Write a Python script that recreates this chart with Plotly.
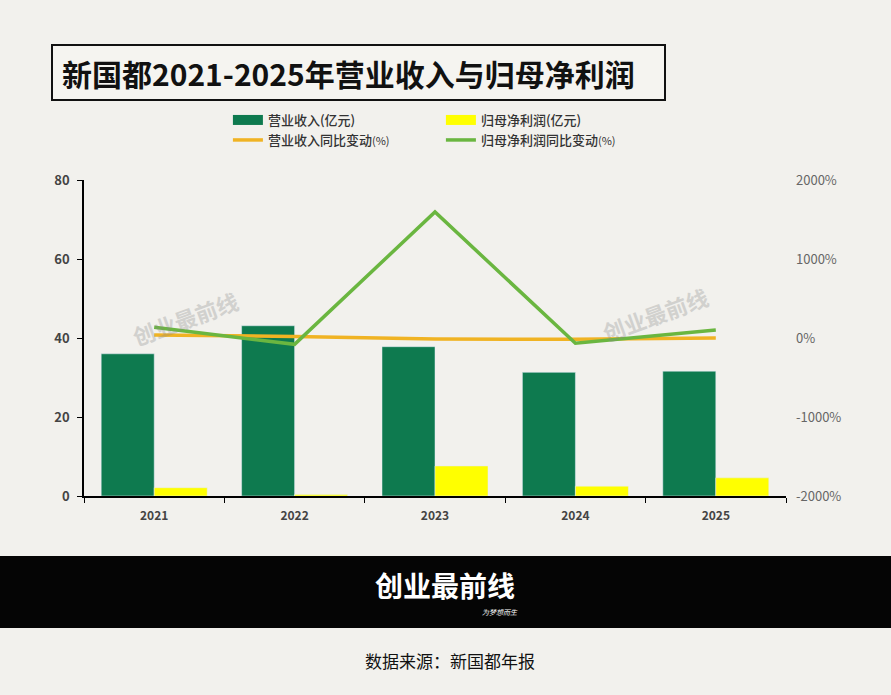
import plotly.graph_objects as go

years = ["2021", "2022", "2023", "2024", "2025"]
revenue = [36.0, 43.1, 37.8, 31.3, 31.6]          # 营业收入(亿元)
net_profit = [2.1, 0.4, 7.6, 2.5, 4.6]            # 归母净利润(亿元)
revenue_yoy = [38, 19, -12, -17, 1]               # 营业收入同比变动(%)
profit_yoy = [135, -80, 1595, -67, 100]           # 归母净利润同比变动(%)

left_ticks = [0, 20, 40, 60, 80]
right_ticks = [-2000, -1000, 0, 1000, 2000]
right_tick_text = ["-2000%", "-1000%", "0%", "1000%", "2000%"]

BG = "#f2f1ed"
GREEN = "#0e7a4f"
YELLOW = "#ffff00"
ORANGE = "#f0b323"
LGREEN = "#6ab640"
FONT = "Noto Sans CJK SC"

fig = go.Figure()

fig.add_trace(go.Bar(x=years, y=revenue, name="营业收入(亿元)", marker_color=GREEN,
                     showlegend=False, yaxis="y"))
fig.add_trace(go.Bar(x=years, y=net_profit, name="归母净利润(亿元)", marker_color=YELLOW,
                     showlegend=False, yaxis="y"))
fig.add_trace(go.Scatter(x=years, y=revenue_yoy, name="营业收入同比变动(%)", mode="lines",
                         line=dict(color=ORANGE, width=3.5), yaxis="y2", showlegend=False))
fig.add_trace(go.Scatter(x=years, y=profit_yoy, name="归母净利润同比变动(%)", mode="lines",
                         line=dict(color=LGREEN, width=3.5), yaxis="y2", showlegend=False))

# legend entries
fig.add_trace(go.Scatter(x=[None], y=[None], name="营业收入(亿元)", mode="lines",
                         line=dict(color=GREEN, width=10), legend="legend"))
fig.add_trace(go.Scatter(x=[None], y=[None], name="归母净利润(亿元)", mode="lines",
                         line=dict(color=YELLOW, width=10), legend="legend"))
fig.add_trace(go.Scatter(x=[None], y=[None], name="营业收入同比变动<span style='font-size:11px;font-weight:normal'>(%)</span>", mode="lines",
                         line=dict(color=ORANGE, width=3.5), legend="legend2"))
fig.add_trace(go.Scatter(x=[None], y=[None], name="归母净利润同比变动<span style='font-size:11px;font-weight:normal'>(%)</span>", mode="lines",
                         line=dict(color=LGREEN, width=3.5), legend="legend2"))

legend_common = dict(orientation="h", xanchor="left", yanchor="middle", x=0.205,
                     bgcolor="rgba(0,0,0,0)", entrywidth=168, entrywidthmode="pixels",
                     font=dict(family=FONT, size=13, color="#333333", weight=500),
                     itemclick=False, traceorder="normal")

fig.update_layout(
    width=891, height=695,
    paper_bgcolor=BG, plot_bgcolor=BG,
    margin=dict(l=84, r=105, t=180, b=199),
    barmode="group", bargap=0.245, bargroupgap=0,
    font=dict(family=FONT),
    showlegend=True,
    legend=dict(**legend_common, y=(496 - 120) / 316),
    legend2=dict(**legend_common, y=(496 - 140) / 316),
    xaxis=dict(
        showline=True, linecolor="black", linewidth=1.5,
        ticks="outside", tickson="boundaries", ticklen=5, tickcolor="black",
        tickfont=dict(family=FONT, size=12, color="#444444", weight="bold"),
        showgrid=False, zeroline=False, ticklabelstandoff=8,
    ),
    yaxis=dict(
        range=[0, 80], tickvals=left_ticks,
        showline=True, linecolor="black", linewidth=1.5,
        ticks="outside", ticklen=5, tickcolor="black",
        tickfont=dict(family=FONT, size=13, color="#444444", weight="bold"),
        showgrid=False, zeroline=False, ticklabelstandoff=5,
    ),
    yaxis2=dict(
        range=[-2000, 2000], tickvals=right_ticks, ticktext=right_tick_text,
        overlaying="y", side="right", showline=False, ticks="",
        tickfont=dict(family=FONT, size=13, color="#666666"),
        showgrid=False, zeroline=False, ticklabelstandoff=9,
    ),
    shapes=[
        # title box
        dict(type="rect", xref="paper", yref="paper",
             x0=(52 - 84) / 702, x1=(665 - 84) / 702,
             y0=(496 - 100) / 316, y1=(496 - 45) / 316,
             line=dict(color="#111111", width=2), fillcolor="#f5f4f0", layer="below"),
        # black band
        dict(type="rect", xref="paper", yref="paper",
             x0=-84 / 702, x1=(891 - 84) / 702,
             y0=(496 - 628) / 316, y1=(496 - 556) / 316,
             line=dict(width=0), fillcolor="#050505"),
    ],
    annotations=[
        dict(text="<b>新国都2021-2025年营业收入与归母净利润</b>", xref="paper", yref="paper",
             x=(60 - 84) / 702, y=(496 - 73) / 316, xanchor="left", yanchor="middle",
             showarrow=False, font=dict(family=FONT, size=30, color="#111111")),
        dict(text="<b>创业最前线</b>", xref="paper", yref="paper",
             x=(445 - 84) / 702, y=(496 - 585) / 316, xanchor="center", yanchor="middle",
             showarrow=False, font=dict(family=FONT, size=28, color="white")),
        dict(text="<i>为梦想而生</i>", xref="paper", yref="paper",
             x=(500 - 84) / 702, y=(496 - 612) / 316, xanchor="center", yanchor="middle",
             showarrow=False, font=dict(family=FONT, size=7, color="white")),
        dict(text="数据来源：新国都年报", xref="paper", yref="paper",
             x=(450 - 84) / 702, y=(496 - 660) / 316, xanchor="center", yanchor="middle",
             showarrow=False, font=dict(family=FONT, size=17, color="#111111")),
        dict(text="<b>创业最前线</b>", xref="paper", yref="paper",
             x=(185 - 84) / 702, y=(496 - 318) / 316, xanchor="center", yanchor="middle",
             showarrow=False, textangle=-20, opacity=0.3,
             font=dict(family=FONT, size=22, color="#888888")),
        dict(text="<b>创业最前线</b>", xref="paper", yref="paper",
             x=(655 - 84) / 702, y=(496 - 314) / 316, xanchor="center", yanchor="middle",
             showarrow=False, textangle=-20, opacity=0.3,
             font=dict(family=FONT, size=22, color="#888888")),
    ],
)

fig.write_html("out.html")
